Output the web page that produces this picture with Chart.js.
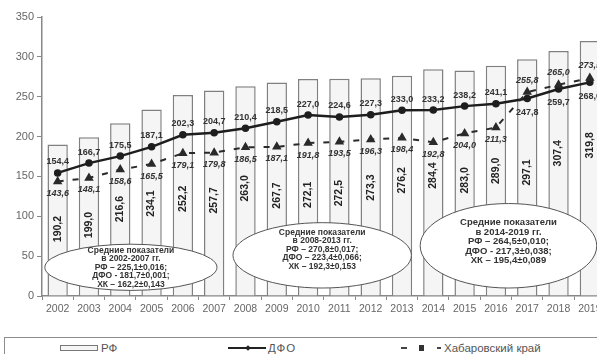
<!DOCTYPE html>
<html>
<head>
<meta charset="utf-8">
<script src="https://cdn.jsdelivr.net/npm/chart.js@4"></script>
<style>
    html, body { margin: 0; padding: 0; background: #fff; width: 597px; height: 354px; overflow: hidden; }
    #wrap { position: absolute; left: 0; top: 0; width: 612px; height: 318px; }
    #legend { position: absolute; left: 4px; top: 337px; width: 600px; height: 30px; border: 1px solid #8c8c8c;
              font: 11.5px "Liberation Sans", Arial, sans-serif; color: #555; }
    #legend .item { position: absolute; top: 3px; height: 14px; line-height: 14px; }
    .sym { position: absolute; }
</style>
</head>
<body>
<div id="wrap"><canvas id="chart"></canvas></div>
<div id="legend">
    <div class="item" style="left:55px">
        <span class="sym" style="left:0;top:4px;width:36px;height:4px;border:1px solid #777;background:#f6f6f6"></span>
        <span style="position:absolute;left:41px">РФ</span>
    </div>
    <div class="item" style="left:223px">
        <span class="sym" style="left:0;top:6px;width:38px;height:2px;background:#222"></span>
        <span class="sym" style="left:18px;top:5px;width:4px;height:4px;background:#222;transform:rotate(45deg)"></span>
        <span style="position:absolute;left:40px;letter-spacing:1px">ДФО</span>
    </div>
    <div class="item" style="left:396px">
        <span class="sym" style="left:0;top:6px;width:6px;height:2px;background:#444"></span>
        <span class="sym" style="left:18px;top:4px;width:5px;height:6px;background:#333"></span>
        <span class="sym" style="left:36px;top:6px;width:4px;height:2px;background:#444"></span>
        <span style="position:absolute;left:43px;white-space:nowrap">Хабаровский край</span>
    </div>
</div>
<script>
const years = ['2002', '2003', '2004', '2005', '2006', '2007', '2008', '2009', '2010',
               '2011', '2012', '2013', '2014', '2015', '2016', '2017', '2018', '2019']
const rf = [190.2, 199.0, 216.6, 234.1, 252.2, 257.7, 263.0, 267.7, 272.1,
            272.5, 273.3, 276.2, 284.4, 283.0, 289.0, 297.1, 307.4, 319.8]
const dfo = [154.4, 166.7, 175.5, 187.1, 202.3, 204.7, 210.4, 218.5, 227.0,
             224.6, 227.3, 233.0, 233.2, 238.2, 241.1, 247.8, 259.7, 268.0]
const khab = [143.6, 148.1, 158.6, 165.5, 179.1, 179.8, 186.5, 187.1, 191.8,
              193.5, 196.3, 198.4, 192.8, 204.0, 211.3, 255.8, 265.0, 273.5]

// where the rotated bar value sits, in axis units
const barLabelAt = [84, 89, 109, 116, 122, 120, 135, 126, 127,
                    129, 136, 145, 151, 145, 157, 155, 179, 189]

const notes = [
    ['Средние показатели', 'в 2002-2007 гг.', 'РФ – 225,1±0,016;', 'ДФО - 181,7±0,001;', 'ХК – 162,2±0,143'],
    ['Средние показатели', 'в 2008-2013 гг.', 'РФ – 270,8±0,017;', 'ДФО – 223,4±0,066;', 'ХК – 192,3±0,153'],
    ['Средние показатели', 'в 2014-2019 гг.', 'РФ – 264,5±0,010;', 'ДФО - 217,3±0,038;', 'ХК – 195,4±0,089']
]
// ellipse centre (category index, axis value), radii (categories, axis units), font size
const noteBoxes = [
    { cx: 2.34, cy: 36, rx: 2.75, ry: 29, font: 8.5, shift: 0 },
    { cx: 8.45, cy: 51, rx: 2.85, ry: 41, font: 8.5, shift: -6 },
    { cx: 14.4, cy: 63, rx: 2.82, ry: 53, font: 9.5, shift: -4 }
]

const FONT = '"Liberation Sans", Arial, sans-serif'
const fmt = v => v.toFixed(1).replace('.', ',')

const labelsPlugin = {
    id: 'labels',
    afterDatasetsDraw(chart) {
        const ctx = chart.ctx
        const xs = chart.scales.x, ys = chart.scales.y

        // ellipses with period averages
        noteBoxes.forEach((b, k) => {
            const cx = xs.getPixelForValue(b.cx)
            const cy = ys.getPixelForValue(b.cy)
            const step = xs.getPixelForValue(1) - xs.getPixelForValue(0)
            const rx = b.rx * step
            const ry = ys.getPixelForValue(0) - ys.getPixelForValue(b.ry)
            ctx.save()
            ctx.beginPath()
            ctx.ellipse(cx, cy, rx, ry, 0, 0, Math.PI * 2)
            ctx.fillStyle = '#fff'
            ctx.fill()
            ctx.lineWidth = 1
            ctx.strokeStyle = '#555'
            ctx.stroke()
            ctx.fillStyle = '#333'
            ctx.font = 'bold ' + b.font + 'px ' + FONT
            ctx.textAlign = 'center'
            ctx.textBaseline = 'middle'
            const lh = b.font
            const lines = notes[k]
            lines.forEach((t, i) => {
                ctx.fillText(t, cx, cy + b.shift + (i - (lines.length - 1) / 2) * lh)
            })
            ctx.restore()
        })

        // rotated values inside the bars
        ctx.save()
        ctx.fillStyle = '#222'
        ctx.font = 'bold 10.5px ' + FONT
        ctx.textAlign = 'center'
        ctx.textBaseline = 'middle'
        chart.getDatasetMeta(0).data.forEach((bar, i) => {
            ctx.save()
            ctx.translate(bar.x, ys.getPixelForValue(barLabelAt[i]))
            ctx.rotate(-Math.PI / 2)
            ctx.fillText(fmt(rf[i]), 0, 0)
            ctx.restore()
        })
        ctx.restore()

        // line values: the higher series is labelled above, the lower one below
        const dfoPts = chart.getDatasetMeta(1).data
        const khPts = chart.getDatasetMeta(2).data
        ctx.save()
        ctx.fillStyle = '#333'
        ctx.textAlign = 'center'
        ctx.textBaseline = 'middle'
        years.forEach((_, i) => {
            const dfoUp = dfo[i] >= khab[i]
            ctx.font = 'bold 9px ' + FONT
            ctx.fillText(fmt(dfo[i]), dfoPts[i].x, dfoPts[i].y + (dfoUp ? -11 : 14))
            ctx.font = 'italic bold 9px ' + FONT
            ctx.fillText(fmt(khab[i]), khPts[i].x, khPts[i].y + (dfoUp ? 12 : -12))
        })
        ctx.restore()
    }
}

const ctx = document.getElementById('chart').getContext('2d')
const chart = new Chart(ctx, {
    type: 'bar',
    data: {
        labels: years,
        datasets: [{
            type: 'bar',
            label: 'РФ',
            data: rf,
            backgroundColor: '#f5f5f5',
            borderColor: '#808080',
            borderWidth: 1.5,
            categoryPercentage: 1,
            barPercentage: 0.65,
            order: 3
        }, {
            type: 'line',
            label: 'ДФО',
            data: dfo,
            borderColor: '#1e1e1e',
            backgroundColor: '#1e1e1e',
            borderWidth: 2.5,
            pointRadius: 2.5,
            pointStyle: 'circle',
            tension: 0,
            order: 2
        }, {
            type: 'line',
            label: 'Хабаровский край',
            data: khab,
            borderColor: '#2a2a2a',
            backgroundColor: '#2a2a2a',
            borderWidth: 2,
            borderDash: [6, 9],
            pointRadius: 3.5,
            pointStyle: 'triangle',
            tension: 0,
            order: 1
        }]
    },
    options: {
        responsive: true,
        maintainAspectRatio: false,
        animation: false,
        layout: { padding: { top: 17, left: 0, right: 0, bottom: 0 } },
        plugins: {
            legend: { display: false },
            tooltip: { enabled: false }
        },
        scales: {
            x: {
                grid: { offset: true, drawOnChartArea: false, tickLength: 4, color: '#888' },
                border: { color: '#888', width: 1.5 },
                ticks: { color: '#666', font: { family: FONT, size: 10.5 }, padding: 3, maxRotation: 0, autoSkip: false },
                afterFit(s) { s.height = 22 }
            },
            y: {
                min: 0,
                max: 350,
                ticks: { stepSize: 50, color: '#666', font: { family: FONT, size: 11 }, padding: 3 },
                grid: { drawOnChartArea: false, tickLength: 5, color: '#888' },
                border: { color: '#888', width: 1.5 },
                afterFit(s) { s.width = 42 }
            }
        }
    },
    plugins: [labelsPlugin]
})
</script>
</body>
</html>
